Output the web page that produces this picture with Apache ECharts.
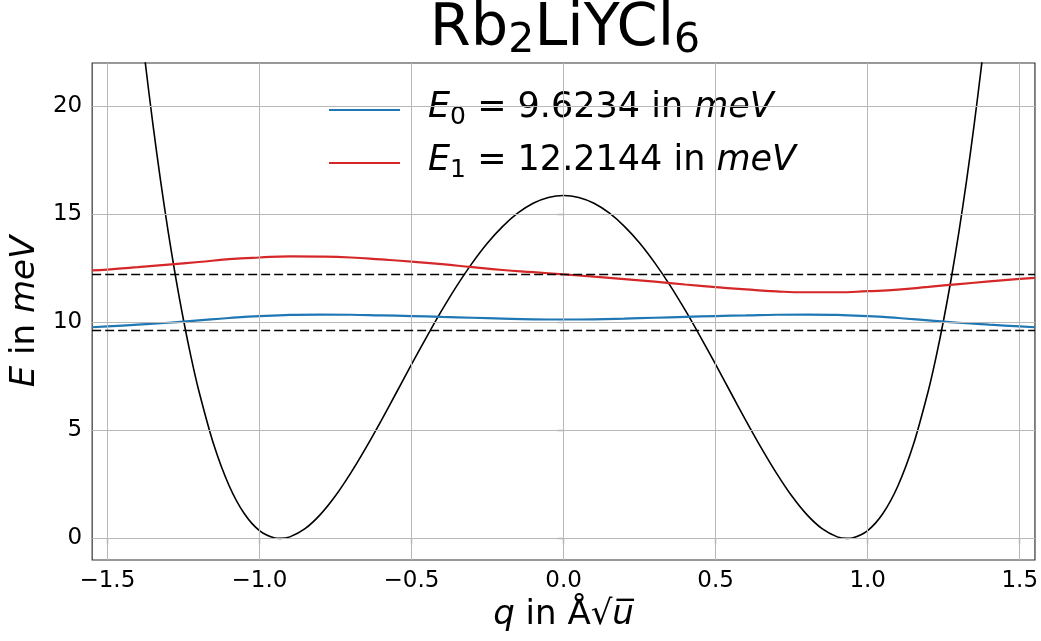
<!DOCTYPE html>
<html>
<head>
<meta charset="utf-8">
<script src="https://cdn.jsdelivr.net/npm/echarts@6/dist/echarts.min.js"></script>
<style>html,body{margin:0;padding:0;background:#fff;}#c{width:1041px;height:641px;}</style>
</head>
<body>
<div id="c"></div>
<script>
// ---- data ----
const xTicks = [-1.5, -1.0, -0.5, 0.0, 0.5, 1.0, 1.5];
const yTicks = [0, 5, 10, 15, 20];
const xRange = [-1.55, 1.55];
const yRange = [-1, 22];

// potential V(q) (black)
const qV = [-1.45, -1.425, -1.4, -1.375, -1.35, -1.325, -1.3, -1.275, -1.25, -1.225, -1.2, -1.15, -1.1, -1.05, -1.0, -0.95, -0.932, -0.9, -0.85, -0.8, -0.75, -0.7, -0.65, -0.6, -0.55, -0.5, -0.45, -0.4, -0.35, -0.3, -0.25, -0.2, -0.15, -0.1, -0.05, 0.0,
            0.05, 0.1, 0.15, 0.2, 0.25, 0.3, 0.35, 0.4, 0.45, 0.5, 0.55, 0.6, 0.65, 0.7, 0.75, 0.8, 0.85, 0.9, 0.932, 0.95, 1.0, 1.05, 1.1, 1.15, 1.2, 1.225, 1.25, 1.275, 1.3, 1.325, 1.35, 1.375, 1.4, 1.425, 1.45];
const V  = [32.0, 28.4, 25.05, 21.97, 19.14, 16.55, 14.19, 12.05, 10.13, 8.40, 6.87, 4.33, 2.45, 1.15, 0.36, 0.02, 0.0, 0.07, 0.45, 1.10, 1.97, 3.02, 4.19, 5.44, 6.74, 8.05, 9.33, 10.56, 11.71, 12.75, 13.67, 14.44, 15.06, 15.51, 15.78, 15.87,
            15.78, 15.51, 15.06, 14.44, 13.67, 12.75, 11.71, 10.56, 9.33, 8.05, 6.74, 5.44, 4.19, 3.02, 1.97, 1.10, 0.45, 0.07, 0.0, 0.02, 0.36, 1.15, 2.45, 4.33, 6.87, 8.40, 10.13, 12.05, 14.19, 16.55, 19.14, 21.97, 25.05, 28.4, 32.0];

// level curves
const qE = [-1.55, -1.5, -1.4, -1.3, -1.2, -1.1, -1.0, -0.9, -0.8, -0.7, -0.6, -0.5, -0.4, -0.3, -0.2, -0.1, 0.0, 0.1, 0.2, 0.3, 0.4, 0.5, 0.6, 0.7, 0.8, 0.9, 1.0, 1.1, 1.2, 1.3, 1.4, 1.5, 1.55];
const E0curve = [9.77, 9.81, 9.89, 9.98, 10.09, 10.20, 10.29, 10.34, 10.36, 10.35, 10.32, 10.29, 10.25, 10.21, 10.17, 10.14, 10.13, 10.14, 10.17, 10.21, 10.25, 10.29, 10.32, 10.35, 10.36, 10.34, 10.29, 10.20, 10.09, 9.98, 9.89, 9.81, 9.77];
const E1curve = [12.40, 12.44, 12.55, 12.67, 12.79, 12.92, 13.00, 13.05, 13.04, 13.00, 12.91, 12.81, 12.69, 12.55, 12.42, 12.32, 12.22, 12.11, 12.00, 11.88, 11.75, 11.63, 11.52, 11.43, 11.39, 11.39, 11.44, 11.51, 11.64, 11.77, 11.89, 12.01, 12.06];

const E0 = 9.6234;
const E1 = 12.2144;
const legendNames = ['E0', 'E1'];
const legendValues = ['9.6234', '12.2144'];

// ---- build ----
const zip = (a, b) => a.map((v, i) => [v, b[i]]);
const FONT = 'DejaVu Sans';
const fmtMinus = s => s.replace('-', '\u2212');

const gridLines = xTicks.map(v => ({xAxis: v})).concat(yTicks.map(v => ({yAxis: v})));

const chart = echarts.init(document.getElementById('c'), null, {renderer: 'canvas'});
chart.setOption({
  animation: false,
  backgroundColor: '#ffffff',
  textStyle: {fontFamily: FONT},
  title: {
    text: '{a|Rb}{s|2}{a|LiYCl}{s|6}',
    left: 565, top: 0, padding: 0, textAlign: 'center',
    textStyle: {
      fontWeight: 'normal',
      rich: {
        a: {fontFamily: FONT, fontSize: 59, fontWeight: 'normal', lineHeight: 62, verticalAlign: 'top', color: '#000'},
        s: {fontFamily: FONT, fontSize: 41, fontWeight: 'normal', lineHeight: 30, verticalAlign: 'bottom', color: '#000'}
      }
    }
  },
  legend: {
    data: legendNames,
    orient: 'vertical',
    left: 328, top: 90, padding: 0,
    itemWidth: 71, itemHeight: 40, itemGap: 13,
    selectedMode: false,
    itemStyle: {color: 'rgba(0,0,0,0)', borderWidth: 0, borderColor: 'rgba(0,0,0,0)'},
    formatter: name => {
      const i = legendNames.indexOf(name);
      return '{e|E}{s|' + i + '}{n| = ' + legendValues[i] + ' in }{i|meV}';
    },
    textStyle: {
      rich: {
        e: {fontFamily: FONT, fontSize: 35, fontStyle: 'italic', lineHeight: 40, verticalAlign: 'top', padding: [0, 0, 0, 23], color: '#000'},
        i: {fontFamily: FONT, fontSize: 35, fontStyle: 'italic', lineHeight: 40, verticalAlign: 'top', color: '#000'},
        n: {fontFamily: FONT, fontSize: 35, lineHeight: 40, verticalAlign: 'top', color: '#000'},
        s: {fontFamily: FONT, fontSize: 25, lineHeight: 22, verticalAlign: 'bottom', color: '#000'}
      }
    }
  },
  grid: {left: 90, right: 5, top: 63, bottom: 81, show: true, borderColor: '#333', borderWidth: 1.2, backgroundColor: 'transparent'},
  xAxis: {
    type: 'value', min: xRange[0], max: xRange[1],
    name: '{i|q}{n| in Å√}{i|u\u0305}', nameLocation: 'middle', nameGap: 37,
    nameTextStyle: {
      rich: {
        i: {fontFamily: FONT, fontSize: 34, fontStyle: 'italic', color: '#000'},
        n: {fontFamily: FONT, fontSize: 34, color: '#000'}
      }
    },
    axisLine: {show: false},
    axisTick: {show: true, customValues: xTicks, length: 6, lineStyle: {color: '#333', width: 1.2}},
    axisLabel: {customValues: xTicks, margin: 10, fontSize: 23, color: '#000', fontFamily: FONT, formatter: v => fmtMinus(v.toFixed(1))},
    splitLine: {show: false}
  },
  yAxis: {
    type: 'value', min: yRange[0], max: yRange[1],
    name: '{i|E}{n| in }{i|meV}', nameLocation: 'middle', nameGap: 43,
    nameTextStyle: {
      rich: {
        i: {fontFamily: FONT, fontSize: 34, fontStyle: 'italic', color: '#000'},
        n: {fontFamily: FONT, fontSize: 34, color: '#000'}
      }
    },
    axisLine: {show: false},
    axisTick: {show: true, customValues: yTicks, length: 6, lineStyle: {color: '#333', width: 1.2}},
    axisLabel: {customValues: yTicks, margin: 10, fontSize: 23, color: '#000', fontFamily: FONT, formatter: v => String(v)},
    splitLine: {show: false}
  },
  series: [
    {
      name: 'grid', type: 'line', data: [], z: 1, silent: true,
      markLine: {silent: true, symbol: 'none', label: {show: false}, animation: false,
        lineStyle: {color: '#b8b8b8', width: 1, type: 'solid'}, data: gridLines}
    },
    {
      name: 'V', type: 'line', data: zip(qV, V), showSymbol: false, symbol: 'none', smooth: 0.3, z: 3,
      lineStyle: {color: '#000', width: 1.6}, clip: true
    },
    {
      name: 'E0', type: 'line', data: zip(qE, E0curve), showSymbol: false, symbol: 'none', smooth: true, z: 4,
      color: '#1f77b4', lineStyle: {color: '#1f77b4', width: 2.2}
    },
    {
      name: 'E1', type: 'line', data: zip(qE, E1curve), showSymbol: false, symbol: 'none', smooth: true, z: 4,
      color: '#d62728', lineStyle: {color: '#d62728', width: 2.2}
    },
    {
      name: 'E0 level', type: 'line', data: [[xRange[0], E0], [xRange[1], E0]], showSymbol: false, symbol: 'none', z: 5,
      lineStyle: {color: '#000', width: 1.6, type: [9, 4]}
    },
    {
      name: 'E1 level', type: 'line', data: [[xRange[0], E1], [xRange[1], E1]], showSymbol: false, symbol: 'none', z: 5,
      lineStyle: {color: '#000', width: 1.6, type: [9, 4]}
    }
  ]
});
</script>
</body>
</html>
